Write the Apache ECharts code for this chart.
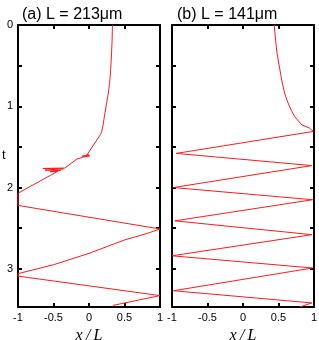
<!DOCTYPE html>
<html><head><meta charset="utf-8">
<script src="https://cdn.jsdelivr.net/npm/echarts@6/dist/echarts.min.js"></script>
<style>html,body{margin:0;padding:0;background:#fff}#c{width:319px;height:340px}</style>
</head><body><div id="c"></div>
<script>
// Panel (a) L = 213um : trajectory x/L vs t
const aX = [0.33, 0.325, 0.315, 0.305, 0.29, 0.27, 0.25, 0.225, 0.20, 0.18, 0.16, -0.03, 0.0, -0.10, 0.01, -0.08, -0.17, -0.34, -0.65, -0.36, -0.62, -0.40, -0.55, -0.44, -1.0, -1.0, 1.0, 0.835, 0.5, 0.0, -0.5, -1.0, -1.0, 1.0, 0.34];
const aT = [0.00, 0.20, 0.40, 0.55, 0.72, 0.85, 0.95, 1.08, 1.22, 1.31, 1.35, 1.60, 1.598, 1.615, 1.61, 1.625, 1.65, 1.76, 1.765, 1.77, 1.785, 1.79, 1.805, 1.80, 2.07, 2.22, 2.51, 2.56, 2.645, 2.81, 2.95, 3.06, 3.09, 3.33, 3.45];
// Panel (b) L = 141um
const bX = [0.44, 0.46, 0.48, 0.52, 0.55, 0.59, 0.63, 0.68, 0.73, 0.83, 0.94, 0.99, 1.0, -0.94, 0.97, -0.98, 0.98, -0.96, 0.97, -1.0, 0.98, -0.98, 0.97, 0.80];
const bT = [0.00, 0.20, 0.35, 0.55, 0.70, 0.85, 0.95, 1.05, 1.13, 1.23, 1.27, 1.31, 1.33, 1.58, 1.73, 2.00, 2.15, 2.41, 2.58, 2.84, 2.99, 3.27, 3.42, 3.47];
const titles = ['(a) L = 213\u03bcm', '(b) L = 141\u03bcm'];
const xLabel = 'x\u2009/\u2009L';
const yLabel = 't';
const xMin = -1, xMax = 1, xStep = 0.5;
const tMin = 0, tMax = 3.47, tStep = 0.5;

const grids = [
  {left: 18, top: 25, width: 142, height: 282, outerBoundsMode: 'none', containLabel: false},
  {left: 172, top: 25, width: 142, height: 282, outerBoundsMode: 'none', containLabel: false}
];
const lineStyle = {color: '#000', width: 2};
const tickStyle = {show: true, inside: true, length: 4, lineStyle: {color: '#000', width: 2}};
const font = 'Liberation Sans, Arial, sans-serif';
const xAxes = [], yAxes = [];
[0, 1].forEach(g => {
  xAxes.push({type: 'value', gridIndex: g, position: 'bottom', min: xMin, max: xMax, interval: xStep,
    axisLine: {show: true, onZero: false, lineStyle}, axisTick: tickStyle, splitLine: {show: false},
    axisLabel: {show: true, margin: 5, fontSize: 11, color: '#000', fontFamily: font,
      formatter: v => String(v)},
    name: xLabel, nameLocation: 'middle', nameGap: 17,
    nameTextStyle: {fontFamily: 'Liberation Serif, DejaVu Serif, serif', fontStyle: 'italic', fontSize: 16, color: '#000'}});
  xAxes.push({type: 'value', gridIndex: g, position: 'top', min: xMin, max: xMax, interval: xStep,
    axisLine: {show: true, onZero: false, lineStyle}, axisTick: tickStyle, splitLine: {show: false}, axisLabel: {show: false}});
  yAxes.push({type: 'value', gridIndex: g, position: 'left', inverse: true, min: tMin, max: tMax, interval: tStep,
    axisLine: {show: true, onZero: false, lineStyle}, axisTick: tickStyle, splitLine: {show: false},
    axisLabel: {show: g === 0, margin: 5, fontSize: 11, color: '#000', fontFamily: font,
      formatter: v => (Math.abs(v - Math.round(v)) < 1e-9 ? String(Math.round(v)) : '')}});
  yAxes.push({type: 'value', gridIndex: g, position: 'right', inverse: true, min: tMin, max: tMax, interval: tStep,
    axisLine: {show: true, onZero: false, lineStyle}, axisTick: tickStyle, splitLine: {show: false}, axisLabel: {show: false}});
});

function pairs(xs, ts) { return xs.map((x, i) => [x, ts[i]]); }

const chart = echarts.init(document.getElementById('c'), null, {renderer: 'canvas'});
chart.setOption({
  animation: false,
  backgroundColor: '#fff',
  title: [
    {text: titles[0], left: 17, top: 2, textStyle: {fontSize: 16, fontWeight: 'normal', color: '#000', fontFamily: font}},
    {text: titles[1], left: 172, top: 2, textStyle: {fontSize: 16, fontWeight: 'normal', color: '#000', fontFamily: font}}
  ],
  graphic: [{type: 'text', left: 2, top: 149, style: {text: yLabel, fontSize: 13, fill: '#000', fontFamily: font}}],
  grid: grids,
  xAxis: xAxes,
  yAxis: yAxes,
  series: [
    {type: 'line', xAxisIndex: 0, yAxisIndex: 0, data: pairs(aX, aT), showSymbol: false, symbol: 'none',
      lineStyle: {color: '#ff1a1a', width: 1}, clip: true},
    {type: 'line', xAxisIndex: 2, yAxisIndex: 2, data: pairs(bX, bT), showSymbol: false, symbol: 'none',
      lineStyle: {color: '#ff1a1a', width: 1}, clip: true}
  ]
});
</script></body></html>
